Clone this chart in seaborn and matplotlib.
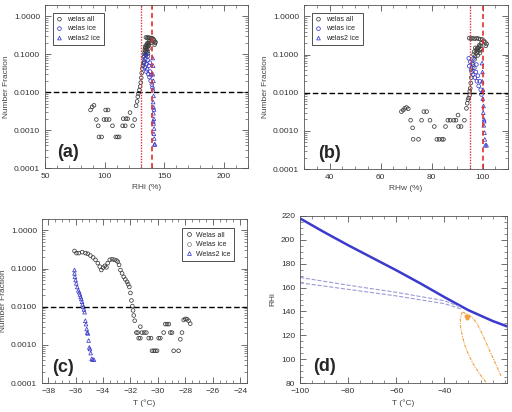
import numpy as np
import matplotlib
matplotlib.use("Agg")
import matplotlib.pyplot as plt
import seaborn as sns
from matplotlib.lines import Line2D
from matplotlib.ticker import LogLocator, MultipleLocator, NullFormatter, FuncFormatter

sns.set_style("ticks")
plt.rcParams['font.family'] = ['Liberation Sans', 'DejaVu Sans']

# ---- panel (a): number fraction vs RHi ----
a_all_rhi = [88.1, 89.5, 91.0, 93.0, 94.6, 95.2, 97.4, 99.4, 100.8, 101.4, 102.8, 103.7, 106.5,
             109.3, 110.7, 112.1, 115.0, 115.5, 117.2, 117.8, 119.2, 121.2, 123.4, 125.1, 126.3,
             127.1, 127.7, 128.2, 129.1, 129.7, 130.2, 130.6, 131.0, 131.5, 132.0, 132.5, 133.0,
             134.5, 135.5, 136.5, 137.5, 138.5, 139.2, 140.0, 140.8, 141.5, 142.2, 141.8, 142.5,
             133.0, 133.3, 133.6, 133.9, 134.2, 134.5, 134.8, 135.1, 135.4, 135.7, 136.0, 136.3,
             136.6, 136.9, 137.2, 134.0, 135.0, 135.9, 133.8, 134.6, 136.2, 137.5, 138.5]
a_all_frac = [0.0034, 0.0041, 0.0045, 0.0019, 0.0013, 0.00066, 0.00066, 0.0019, 0.0034, 0.0019,
              0.0034, 0.0019, 0.0013, 0.00066, 0.00066, 0.00066, 0.0013, 0.002, 0.0013, 0.002,
              0.002, 0.0029, 0.0013, 0.0019, 0.0044, 0.0057, 0.0076, 0.0093, 0.0114, 0.0142,
              0.018, 0.024, 0.032, 0.042, 0.05, 0.058, 0.065,
              0.28, 0.27, 0.28, 0.27, 0.26, 0.27, 0.26, 0.25, 0.23, 0.2, 0.18, 0.21,
              0.09, 0.11, 0.13, 0.1, 0.12, 0.15, 0.11, 0.14, 0.17, 0.12, 0.16, 0.19,
              0.14, 0.17, 0.2, 0.145, 0.18, 0.2, 0.16, 0.095, 0.105, 0.22, 0.2]
a_ice_rhi = [132.5, 133.0, 133.5, 134.0, 134.5, 135.0, 135.5, 136.0, 136.5, 137.0, 137.5,
             138.0, 138.5, 139.0, 139.5, 140.0, 134.8, 136.2, 137.8]
a_ice_frac = [0.085, 0.06, 0.045, 0.075, 0.1, 0.055, 0.04, 0.07, 0.03, 0.05, 0.025,
              0.035, 0.02, 0.028, 0.016, 0.013, 0.035, 0.09, 0.06]
a_ice2_rhi = [140.2, 140.5, 140.3, 140.8, 140.5, 140.9, 140.6, 141.0, 140.8, 141.2, 141.0,
              141.4, 141.2, 141.5, 141.6, 142.1, 141.3, 140.7]
a_ice2_frac = [0.08, 0.05, 0.03, 0.02, 0.012, 0.008, 0.0055, 0.004, 0.0028, 0.002, 0.0015,
               0.0011, 0.0008, 0.0006, 0.00042, 0.00042, 0.0035, 0.0017]

# ---- panel (b): number fraction vs RHw ----
b_all_rhw = [68.2, 68.9, 69.5, 70.2, 70.9, 71.8, 72.6, 72.8, 74.9, 76.1, 77.0, 78.1, 79.4,
             81.1, 82.1, 83.0, 84.1, 84.7, 85.5, 86.4, 87.3, 88.7, 89.6, 90.4, 90.6, 91.6,
             92.9, 93.7, 94.0, 94.3, 94.6, 95.0, 95.0, 95.2, 95.4, 95.6, 95.8, 96.0, 96.3,
             94.8, 95.5, 96.2, 97.0, 97.8, 98.5, 99.2, 99.9, 100.5, 101.1, 101.6, 101.3,
             96.5, 96.8, 97.1, 97.4, 97.7, 98.0, 98.3, 98.6, 98.9, 99.2, 99.5, 97.2, 98.1,
             98.8, 99.6, 96.9, 97.9, 99.0]
b_all_frac = [0.0032, 0.0035, 0.0039, 0.0041, 0.0038, 0.0019, 0.0012, 0.0006, 0.0006, 0.0019,
              0.0032, 0.0032, 0.0019, 0.0013, 0.0006, 0.0006, 0.0006, 0.0006, 0.0013, 0.0019,
              0.0019, 0.0019, 0.0019, 0.0026, 0.0013, 0.0013, 0.0019, 0.0039, 0.0053, 0.0066,
              0.0073, 0.0087, 0.011, 0.013, 0.018, 0.025, 0.035, 0.045, 0.055,
              0.27, 0.26, 0.27, 0.26, 0.27, 0.26, 0.25, 0.25, 0.23, 0.21, 0.19, 0.17,
              0.1, 0.12, 0.09, 0.13, 0.11, 0.15, 0.12, 0.16, 0.13, 0.17, 0.14, 0.15, 0.095,
              0.18, 0.2, 0.075, 0.14, 0.11]
b_ice_rhw = [94.6, 94.8, 95.2, 95.5, 96.0, 96.3, 96.8, 97.0, 97.4, 97.8, 98.2, 98.5, 98.9,
             99.3, 99.6, 96.5, 97.6]
b_ice_frac = [0.08, 0.05, 0.065, 0.04, 0.06, 0.03, 0.045, 0.025, 0.035, 0.02, 0.028, 0.015,
              0.02, 0.012, 0.009, 0.08, 0.055]
b_ice2_rhw = [99.8, 100.0, 99.9, 100.2, 100.1, 100.4, 100.3, 100.6, 100.5, 100.8, 100.9,
              101.1, 101.6, 100.7]
b_ice2_frac = [0.06, 0.035, 0.02, 0.012, 0.007, 0.0045, 0.003, 0.002, 0.0014, 0.0009, 0.0006,
               0.00042, 0.00042, 0.0018]

# ---- panel (c): number fraction vs T ----
c_all_t = [-36.08, -35.94, -35.77, -35.52, -35.28, -35.11, -34.92, -34.72, -34.55, -34.38,
           -34.24, -34.12, -33.99, -33.87, -33.75, -33.66, -33.51, -33.34, -33.17, -33.02,
           -32.93, -32.83, -32.73, -32.61, -32.49, -32.37, -32.25, -32.17, -32.08, -32.00,
           -31.93, -31.86, -31.81, -31.76, -31.69,
           -31.28, -31.57, -31.47, -31.40, -31.28, -31.16, -30.99, -30.84, -30.67, -30.50,
           -30.43, -30.30, -30.18, -30.06, -29.94, -29.82, -29.58, -29.46, -29.33, -29.20,
           -29.09, -28.97, -28.85, -28.49, -28.36, -28.24, -28.12, -28.00, -27.88, -27.76,
           -27.64]
c_all_frac = [0.29, 0.255, 0.255, 0.27, 0.255, 0.245, 0.22, 0.196, 0.17, 0.139,
              0.113, 0.092, 0.106, 0.118, 0.108, 0.139, 0.17, 0.177, 0.17, 0.163,
              0.153, 0.125, 0.092, 0.075, 0.061, 0.052, 0.045, 0.039, 0.033, 0.023,
              0.0146, 0.0104, 0.008, 0.0059, 0.0043,
              0.003, 0.0021, 0.0021, 0.0015, 0.0015, 0.0021, 0.0021, 0.0021, 0.0015, 0.0015,
              0.0007, 0.0007, 0.0007, 0.0007, 0.0015, 0.0015, 0.0021, 0.0035, 0.0035, 0.0035,
              0.0021, 0.0021, 0.0007, 0.0007, 0.0014, 0.0021, 0.0045, 0.0048, 0.0047, 0.0043,
              0.0036]
c_ice2_t = [-36.08, -36.08, -36.05, -36.00, -35.95, -35.88, -35.80, -35.73, -35.68, -35.63,
            -35.58, -35.53, -35.49, -35.44, -35.39, -35.34, -35.29, -35.24, -35.19, -35.15,
            -35.10, -35.05, -35.00, -34.95, -34.90, -34.83, -34.76, -34.66]
c_ice2_frac = [0.092, 0.075, 0.061, 0.05, 0.041, 0.033, 0.027, 0.024, 0.021, 0.018,
               0.016, 0.0135, 0.0115, 0.0099, 0.0085, 0.0072, 0.0043, 0.0035, 0.0026, 0.0021,
               0.002, 0.0013, 0.00086, 0.00078, 0.00061, 0.00043, 0.00041, 0.00041]

# ---- panel (d): RHi vs T ----
d_hom_t = [-100, -90, -80, -70, -60, -50, -40, -30, -20, -14]
d_hom_rhi = [218, 206.5, 195.5, 185, 174.5, 163.5, 152, 141, 132, 127.5]
d_dash1_t = [-100, -80, -60, -40, -33]
d_dash1_rhi = [168.5, 162, 156, 149, 143.5]
d_dash2_t = [-100, -80, -60, -40, -33]
d_dash2_rhi = [164, 158.5, 153, 146.5, 142]
d_or1_t = [-32.6, -33.4, -33.3, -32.6, -31.6, -29.8, -27.5, -24.8, -22.5]
d_or1_rhi = [139.5, 134, 127, 120, 112, 103, 94, 86, 80]
d_or2_t = [-32.4, -30.5, -28.5, -26.5, -24.5, -22.5, -20.5, -18.5, -16.5]
d_or2_rhi = [139.5, 137.5, 135, 130, 122, 113, 104, 95, 86]
d_blob_t = [-31.2, -30.6, -30.0, -30.8]
d_blob_rhi = [136.5, 135.5, 136, 134.8]

GREY = '#3c3c3c'
BLUE = '#3a3acc'
RED = '#e03030'


def open_pts(ax, x, y, color, marker, label):
    sns.scatterplot(x=x, y=y, ax=ax, marker=marker, s=7, facecolor='none',
                    edgecolor=color, linewidth=0.55, label=label)


def style_axes(ax):
    for sp in ax.spines.values():
        sp.set_color('#555555')
        sp.set_linewidth(0.6)
    ax.tick_params(which='both', direction='in', top=True, right=True,
                   labelsize=6, colors='#333333')
    ax.tick_params(which='major', length=4, width=0.5)
    ax.tick_params(which='minor', length=2, width=0.4)


def log_panel(ax, xlim, xticks, xminor, xlabel):
    ax.set_yscale('log')
    ax.set_ylim(1e-4, 2)
    ax.set_xlim(*xlim)
    ax.set_yticks([1e-4, 1e-3, 1e-2, 1e-1, 1])
    ax.yaxis.set_major_formatter(FuncFormatter(lambda v, p: f"{v:.4f}"))
    ax.yaxis.set_minor_locator(LogLocator(base=10, subs=np.arange(2, 10)))
    ax.yaxis.set_minor_formatter(NullFormatter())
    ax.set_xticks(xticks)
    ax.xaxis.set_minor_locator(MultipleLocator(xminor))
    style_axes(ax)
    ax.axhline(0.01, color='black', ls=(0, (4, 2)), lw=1.0)
    ax.set_xlabel(xlabel, fontsize=6, color='#444444', labelpad=3)
    ax.set_ylabel('Number Fraction', fontsize=6, color='#444444', labelpad=3)


def small_legend(ax, **kw):
    leg = ax.legend(fontsize=5, handlelength=1.0, handletextpad=0.6, borderpad=0.5,
                    labelspacing=0.35, fancybox=False, framealpha=1, **kw)
    leg.get_frame().set_edgecolor('#333333')
    leg.get_frame().set_linewidth(0.6)


fig = plt.figure(figsize=(5.12, 4.12), dpi=100)
ax_a = fig.add_axes([45 / 512, 244 / 412, 203 / 512, 163 / 412])
ax_b = fig.add_axes([304 / 512, 243 / 412, 204 / 512, 164 / 412])
ax_c = fig.add_axes([42 / 512, 29 / 412, 205 / 512, 164 / 412])
ax_d = fig.add_axes([300 / 512, 29 / 412, 207 / 512, 167 / 412])

# (a)
open_pts(ax_a, a_all_rhi, a_all_frac, GREY, 'o', 'welas all')
open_pts(ax_a, a_ice_rhi, a_ice_frac, BLUE, 'o', 'welas ice')
open_pts(ax_a, a_ice2_rhi, a_ice2_frac, BLUE, '^', 'welas2 ice')
log_panel(ax_a, (50, 220), [50, 100, 150, 200], 10, 'RHi (%)')
ax_a.axvline(130, color=RED, ls=(0, (1, 1)), lw=1.0)
ax_a.axvline(140, color=RED, ls=(0, (3, 2)), lw=1.2)
small_legend(ax_a, loc='upper left', bbox_to_anchor=(0.02, 0.975))
ax_a.text(0.06, 0.07, '(a)', transform=ax_a.transAxes, fontsize=13, fontweight='bold')

# (b)
open_pts(ax_b, b_all_rhw, b_all_frac, GREY, 'o', 'welas all')
open_pts(ax_b, b_ice_rhw, b_ice_frac, BLUE, 'o', 'welas ice')
open_pts(ax_b, b_ice2_rhw, b_ice2_frac, BLUE, '^', 'welas2 ice')
log_panel(ax_b, (30, 110), [40, 60, 80, 100], 5, 'RHw (%)')
ax_b.axvline(95, color=RED, ls=(0, (1, 1)), lw=1.0)
ax_b.axvline(100, color=RED, ls=(0, (3, 2)), lw=1.2)
small_legend(ax_b, loc='upper left', bbox_to_anchor=(0.02, 0.975))
ax_b.text(0.07, 0.07, '(b)', transform=ax_b.transAxes, fontsize=13, fontweight='bold')

# (c)
open_pts(ax_c, c_all_t, c_all_frac, GREY, 'o', 'Welas all')
open_pts(ax_c, c_ice2_t, c_ice2_frac, BLUE, '^', 'Welas2 ice')
log_panel(ax_c, (-38.45, -23.5), [-38, -36, -34, -32, -30, -28, -26, -24], 0.5, 'T (\u00b0C)')
handles = [Line2D([], [], ls='none', marker='o', ms=2.8, mfc='none', mec=GREY, mew=0.55),
           Line2D([], [], ls='none', marker='o', ms=2.8, mfc='none', mec='#888888', mew=0.55),
           Line2D([], [], ls='none', marker='^', ms=2.8, mfc='none', mec=BLUE, mew=0.55)]
ax_c.legend().remove()
leg = ax_c.legend(handles, ['Welas all', 'Welas ice', 'Welas2 ice'], loc='upper right',
                  bbox_to_anchor=(0.955, 0.965), fontsize=5, handlelength=1.0,
                  handletextpad=0.6, borderpad=0.5, labelspacing=0.35, fancybox=False,
                  framealpha=1)
leg.get_frame().set_edgecolor('#333333')
leg.get_frame().set_linewidth(0.6)
ax_c.text(0.05, 0.07, '(c)', transform=ax_c.transAxes, fontsize=13, fontweight='bold')

# (d)
sns.lineplot(x=d_hom_t, y=d_hom_rhi, ax=ax_d, color=BLUE, lw=1.8, sort=False, estimator=None)
sns.lineplot(x=d_dash1_t, y=d_dash1_rhi, ax=ax_d, color='#9a9ad6', lw=0.8, ls='--',
             sort=False, estimator=None)
sns.lineplot(x=d_dash2_t, y=d_dash2_rhi, ax=ax_d, color='#9a9ad6', lw=0.8, ls='--',
             sort=False, estimator=None)
sns.lineplot(x=d_or1_t, y=d_or1_rhi, ax=ax_d, color='#f0a040', lw=0.8, ls=(0, (3, 1, 1, 1)),
             sort=False, estimator=None)
sns.lineplot(x=d_or2_t, y=d_or2_rhi, ax=ax_d, color='#f0a040', lw=0.8, ls=(0, (3, 1, 1, 1)),
             sort=False, estimator=None)
sns.scatterplot(x=d_blob_t, y=d_blob_rhi, ax=ax_d, color='#f0a040', s=8, linewidth=0)
ax_d.set_xlim(-100, -14)
ax_d.set_ylim(80, 220)
ax_d.set_xticks([-100, -80, -60, -40])
ax_d.xaxis.set_minor_locator(MultipleLocator(5))
ax_d.set_yticks(range(80, 221, 20))
ax_d.yaxis.set_minor_locator(MultipleLocator(5))
style_axes(ax_d)
ax_d.set_xlabel('T (\u00b0C)', fontsize=6, color='#444444', labelpad=3)
ax_d.set_ylabel('RHi', fontsize=6, color='#444444', labelpad=3)
ax_d.text(0.063, 0.07, '(d)', transform=ax_d.transAxes, fontsize=13, fontweight='bold')

fig.savefig('out.png', dpi=100)
